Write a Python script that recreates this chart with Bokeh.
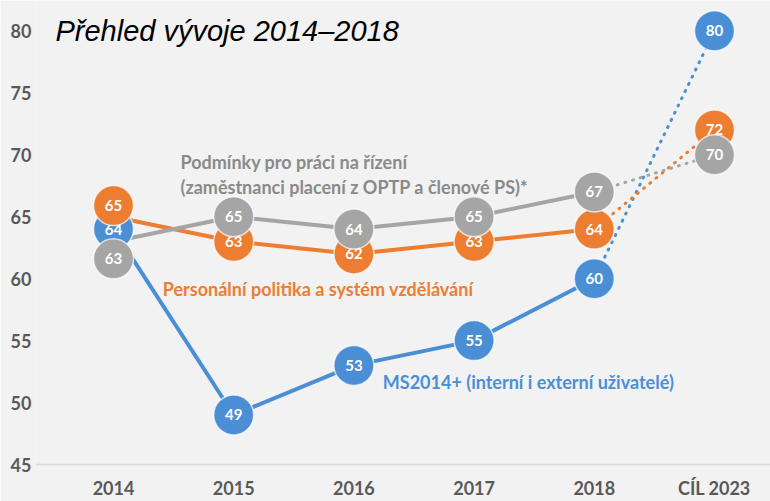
from bokeh.plotting import figure
from bokeh.models import (ColumnDataSource, FixedTicker, Span, Label, CDSView,
                          IndexFilter, Range1d)
from bokeh.transform import dodge
from bokeh.embed import file_html
from bokeh.resources import INLINE

# ---------------- data ----------------
categories = ["2014", "2015", "2016", "2017", "2018", "CÍL 2023"]
ms2014 = [64, 49, 53, 55, 60, 80]
personalni = [65, 63, 62, 63, 64, 72]
podminky = [63, 65, 64, 65, 67, 70]
y_ticks = [45, 50, 55, 60, 65, 70, 75, 80]

title_text = "Přehled vývoje 2014–2018"
label_ms = "MS2014+ (interní i externí uživatelé)"
label_pers = "Personální politika a systém vzdělávání"
label_podm_1 = "Podmínky pro práci na řízení"
label_podm_2 = "(zaměstnanci placení z OPTP a členové PS)*"

BLUE = "#4a8fd6"
ORANGE = "#ed7d31"
GRAY = "#a5a5a5"
BG = "#f2f2f2"
AXIS_TXT = "#595959"
FONT = "Lato"

xs = list(range(len(categories)))

p = figure(width=770, height=501, output_backend="svg", toolbar_location=None,
           x_range=Range1d(-0.649, 5.466), y_range=Range1d(44.76, 82.45),
           min_border_left=35, min_border_right=0, min_border_top=0,
           min_border_bottom=31)
p.background_fill_color = BG
p.border_fill_color = BG
p.outline_line_color = None
p.xgrid.visible = False
p.ygrid.visible = False

# axes
p.yaxis.ticker = FixedTicker(ticks=y_ticks)
p.xaxis.ticker = FixedTicker(ticks=xs)
p.xaxis.major_label_overrides = {i: c for i, c in enumerate(categories)}
for ax in (p.xaxis, p.yaxis):
    ax.axis_line_color = None
    ax.major_tick_line_color = None
    ax.minor_tick_line_color = None
    ax.major_tick_out = 0
    ax.major_tick_in = 0
    ax.minor_tick_out = 0
    ax.minor_tick_in = 0
    ax.major_label_text_font = FONT
    ax.major_label_text_font_style = "bold"
    ax.major_label_text_font_size = "18px"
    ax.major_label_text_color = AXIS_TXT
p.yaxis.major_label_standoff = 4
p.xaxis.major_label_standoff = 9

p.add_layout(Span(location=45, dimension="width", line_color="#d9d9d9", line_width=1.5))

series = [
    (ms2014, BLUE, 0.0),
    (personalni, ORANGE, 0.9),
    (podminky, GRAY, -1.4),
]

n = len(categories)
# lines
for vals, col, _ in series:
    p.line(xs[:n - 1], vals[:n - 1], line_color=col, line_width=4, line_join="round")
    p.line(xs[n - 2:], vals[n - 2:], line_color=col, line_width=3,
           line_dash="1 7", line_cap="round")

# markers + value labels
for vals, col, nudge in series:
    src = ColumnDataSource(dict(x=xs, y=vals, t=[str(v) for v in vals]))
    rest = CDSView(filter=IndexFilter(list(range(1, n))))
    first = CDSView(filter=IndexFilter([0]))
    for view, yspec in ((rest, "y"), (first, dodge("y", nudge, range=p.y_range))):
        p.scatter(x="x", y=yspec, source=src, view=view, size=40, fill_color=col,
                  line_color="white", line_width=1.5, line_alpha=0.7)
        p.text(x="x", y=yspec, text="t", source=src, view=view, text_color="white",
               text_font=dict(value=FONT), text_font_style="bold", text_font_size="15px",
               text_align="center", text_baseline="middle")

# series annotations
p.add_layout(Label(x=-0.483, y=80, text=title_text, text_font="Liberation Sans",
                   text_font_style="italic", text_font_size="29px", text_color="black",
                   text_baseline="middle"))
p.add_layout(Label(x=0.557, y=69.4, text=label_podm_1, text_font=FONT,
                   text_font_style="bold", text_font_size="18px", text_color="#8a8a8a",
                   text_baseline="middle"))
p.add_layout(Label(x=0.557, y=67.4, text=label_podm_2, text_font=FONT,
                   text_font_style="bold", text_font_size="18px", text_color="#8a8a8a",
                   text_baseline="middle"))
p.add_layout(Label(x=0.41, y=59.2, text=label_pers, text_font=FONT,
                   text_font_style="bold", text_font_size="18px", text_color=ORANGE,
                   text_baseline="middle"))
p.add_layout(Label(x=2.24, y=51.7, text=label_ms, text_font=FONT,
                   text_font_style="bold", text_font_size="18px", text_color=BLUE,
                   text_baseline="middle"))

open("out.html", "w").write(file_html(p, INLINE))
